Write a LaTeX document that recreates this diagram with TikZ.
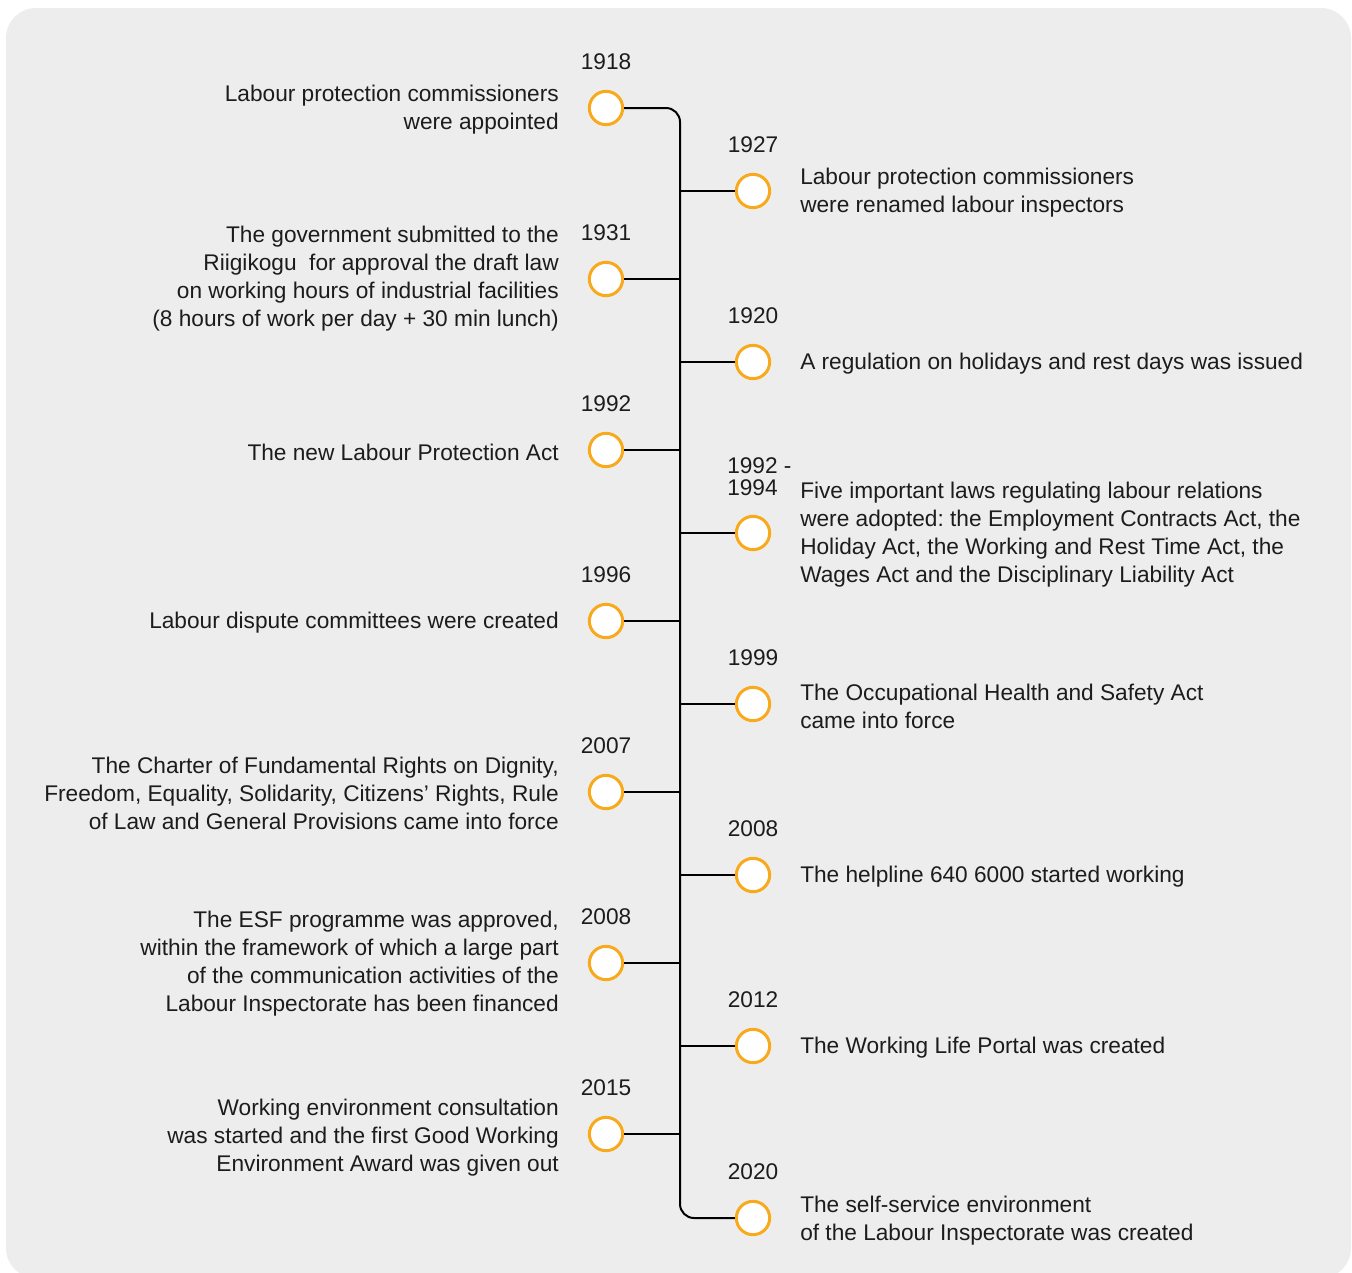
\documentclass[tikz,border=0pt]{standalone}
\usepackage{fontspec}
\setmainfont{Liberation Sans}
\frenchspacing
\definecolor{bgc}{RGB}{237,237,237}
\definecolor{ring}{RGB}{248,170,28}
\definecolor{ink}{RGB}{28,28,28}
\tikzset{
  evt/.style={circle,draw=ring,line width=2.25pt,fill=white,minimum size=25pt,inner sep=0pt},
  spine/.style={draw=black,line width=1.5pt},
  ltext/.style={anchor=east,align=right,inner sep=0pt,text=ink,font=\fontsize{17}{21}\selectfont},
  rtext/.style={anchor=west,align=left,inner sep=0pt,text=ink,font=\fontsize{17}{21}\selectfont},
  yr/.style={inner sep=0pt,text=ink,font=\fontsize{17}{21}\selectfont},
}
\begin{document}
\begin{tikzpicture}[x=0.75pt,y=-0.75pt]
\useasboundingbox (0,0) rectangle (1352,1272);
\fill[white] (0,0) rectangle (1352,1272);
\fill[bgc,rounded corners=22.5pt] (6,8) rectangle (1351,1278);
% circles
\node[evt] (c1918) at (606,108) {};
\node[evt] (c1931) at (606,279) {};
\node[evt] (c1992) at (606,450) {};
\node[evt] (c1996) at (606,621) {};
\node[evt] (c2007) at (606,792) {};
\node[evt] (c2008a) at (606,963) {};
\node[evt] (c2015) at (606,1134) {};
\node[evt] (c1927) at (753,191) {};
\node[evt] (c1920) at (753,362) {};
\node[evt] (c9294) at (753,533) {};
\node[evt] (c1999) at (753,704) {};
\node[evt] (c2008b) at (753,875) {};
\node[evt] (c2012) at (753,1046) {};
\node[evt] (c2020) at (753,1218) {};
% spine
\coordinate (top) at (680,108);
\coordinate (bot) at (680,1218);
\draw[spine,rounded corners=10.5pt] (c1918.east) -- (top) -- (bot) -- (c2020.west);
\foreach \c in {c1931,c1992,c1996,c2007,c2008a,c2015}
  \draw[spine] (\c.east) -- (\c.east -| top);
\foreach \c in {c1927,c1920,c9294,c1999,c2008b,c2012}
  \draw[spine] (\c.west) -- (\c.west -| top);
% years
\node[yr] (y1918) at (606,62) {1918};
\node[yr] (y1931) at (606,233) {1931};
\node[yr] (y1992) at (606,404) {1992};
\node[yr] (y1996) at (606,575) {1996};
\node[yr] (y2007) at (606,746) {2007};
\node[yr] (y2008a) at (606,917) {2008};
\node[yr] (y2015) at (606,1088) {2015};
\node[yr] (y1927) at (753,145) {1927};
\node[yr] (y1920) at (753,316) {1920};
\node[yr,anchor=north west,align=left,font=\fontsize{17}{16.5}\selectfont] (y9294) at (727,457) {1992 -\\1994};
\node[yr] (y1999) at (753,658) {1999};
\node[yr] (y2008b) at (753,829) {2008};
\node[yr] (y2012) at (753,1000) {2012};
\node[yr] (y2020) at (753,1172) {2020};
% texts left
\node[ltext] (t1918) at (559,110) {Labour protection commissioners\\were appointed};
\node[ltext] (t1931) at (559,279) {The government submitted to the\\Riigikogu\ \ for approval the draft law\\on working hours of industrial facilities\\(8 hours of work per day + 30 min lunch)};
\node[ltext] (t1992) at (559,452) {The new Labour Protection Act};
\node[ltext] (t1996) at (559,623) {Labour dispute committees were created};
\node[ltext] (t2007) at (559,793) {The Charter of Fundamental Rights on Dignity,\\Freedom, Equality, Solidarity, Citizens’ Rights, Rule\\of Law and General Provisions came into force};
\node[ltext] (t2008a) at (559,964) {The ESF programme was approved,\\within the framework of which a large part\\of the communication activities of the\\Labour Inspectorate has been financed};
\node[ltext] (t2015) at (559,1138) {Working environment consultation\\was started and the first Good Working\\Environment Award was given out};
% texts right
\node[rtext] (t1927) at (800,193) {Labour protection commissioners\\were renamed labour inspectors};
\node[rtext] (t1920) at (800,364) {A regulation on holidays and rest days was issued};
\node[rtext] (t9294) at (800,535) {Five important laws regulating labour relations\\were adopted: the Employment Contracts Act, the\\Holiday Act, the Working and Rest Time Act, the\\Wages Act and the Disciplinary Liability Act};
\node[rtext] (t1999) at (800,706) {The Occupational Health and Safety Act\\came into force};
\node[rtext] (t2008b) at (800,877) {The helpline 640 6000 started working};
\node[rtext] (t2012) at (800,1048) {The Working Life Portal was created};
\node[rtext] (t2020) at (800,1221) {The self-service environment\\of the Labour Inspectorate was created};
\end{tikzpicture}
\end{document}
